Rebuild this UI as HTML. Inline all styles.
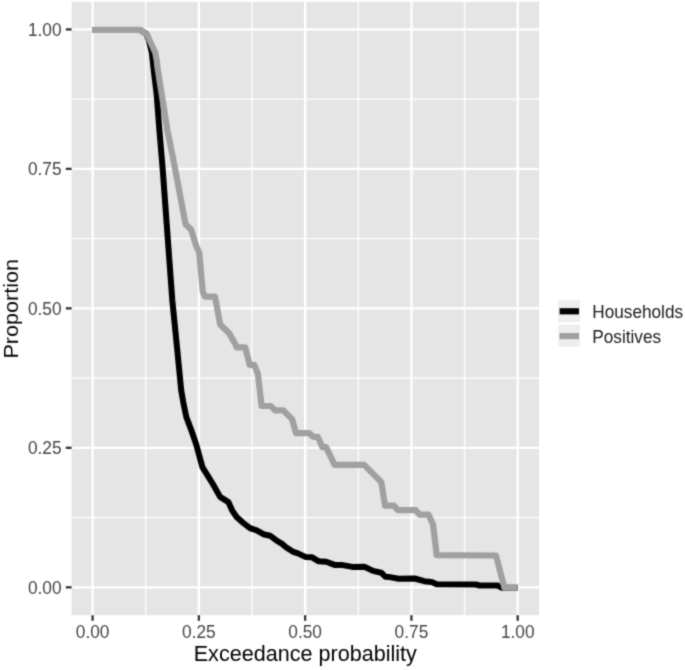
<!DOCTYPE html>
<html><head><meta charset="utf-8"><style>
html,body{margin:0;padding:0;background:#fff;}
svg{display:block;font-family:"Liberation Sans",sans-serif;}
</style></head><body>
<svg width="685" height="670" viewBox="0 0 685 670">
<defs><filter id="bl" filterUnits="userSpaceOnUse" x="-8" y="-8" width="701" height="686" color-interpolation-filters="sRGB"><feColorMatrix type="saturate" values="0"/><feConvolveMatrix order="3" kernelMatrix="0.0289 0.1122 0.0289 0.1122 0.4356 0.1122 0.0289 0.1122 0.0289" divisor="1" preserveAlpha="true" edgeMode="duplicate"/></filter></defs>
<rect width="685" height="670" fill="#fff"/>
<g filter="url(#bl)">
<rect x="-8" y="-8" width="701" height="686" fill="#fff"/>
<rect x="71.6" y="1.85" width="467.5" height="613.4" fill="#E5E5E5"/>
<line x1="145.74" y1="1.85" x2="145.74" y2="615.2" stroke="#FFFFFF" stroke-width="1.2"/>
<line x1="71.6" y1="517.56" x2="539.1" y2="517.56" stroke="#FFFFFF" stroke-width="1.2"/>
<line x1="252.01" y1="1.85" x2="252.01" y2="615.2" stroke="#FFFFFF" stroke-width="1.2"/>
<line x1="71.6" y1="378.09" x2="539.1" y2="378.09" stroke="#FFFFFF" stroke-width="1.2"/>
<line x1="358.29" y1="1.85" x2="358.29" y2="615.2" stroke="#FFFFFF" stroke-width="1.2"/>
<line x1="71.6" y1="238.61" x2="539.1" y2="238.61" stroke="#FFFFFF" stroke-width="1.2"/>
<line x1="464.56" y1="1.85" x2="464.56" y2="615.2" stroke="#FFFFFF" stroke-width="1.2"/>
<line x1="71.6" y1="99.14" x2="539.1" y2="99.14" stroke="#FFFFFF" stroke-width="1.2"/>
<line x1="92.60" y1="1.85" x2="92.60" y2="615.2" stroke="#FFFFFF" stroke-width="2.3"/>
<line x1="71.6" y1="587.30" x2="539.1" y2="587.30" stroke="#FFFFFF" stroke-width="2.3"/>
<line x1="198.88" y1="1.85" x2="198.88" y2="615.2" stroke="#FFFFFF" stroke-width="2.3"/>
<line x1="71.6" y1="447.82" x2="539.1" y2="447.82" stroke="#FFFFFF" stroke-width="2.3"/>
<line x1="305.15" y1="1.85" x2="305.15" y2="615.2" stroke="#FFFFFF" stroke-width="2.3"/>
<line x1="71.6" y1="308.35" x2="539.1" y2="308.35" stroke="#FFFFFF" stroke-width="2.3"/>
<line x1="411.43" y1="1.85" x2="411.43" y2="615.2" stroke="#FFFFFF" stroke-width="2.3"/>
<line x1="71.6" y1="168.88" x2="539.1" y2="168.88" stroke="#FFFFFF" stroke-width="2.3"/>
<line x1="517.70" y1="1.85" x2="517.70" y2="615.2" stroke="#FFFFFF" stroke-width="2.3"/>
<line x1="71.6" y1="29.40" x2="539.1" y2="29.40" stroke="#FFFFFF" stroke-width="2.3"/>
<polyline points="92.6,29.9 140.0,29.9 146.5,34.1 148.8,40.3 151.8,52.3 152.7,60.3 153.5,68.3 156.7,94.7 159.4,130.3 162.7,169.3 166.8,225.3 172.3,300.3 176.8,345.1 181.2,390.3 183.3,402.3 186.4,417.3 190.9,429.1 196.1,444.0 202.4,467.1 207.5,475.3 213.0,484.3 220.1,496.9 228.4,502.1 232.1,510.3 236.6,517.0 243.3,523.0 250.0,528.2 256.7,530.4 263.4,534.2 270.1,535.7 276.1,540.2 282.1,543.9 286.0,547.2 292.7,551.6 297.9,553.4 305.4,556.9 312.1,557.3 318.8,561.3 326.3,561.8 335.2,565.1 342.7,565.1 352.4,566.9 364.3,566.7 373.1,570.9 381.2,572.7 385.5,576.8 389.9,577.1 398.7,578.8 414.7,578.5 424.2,581.2 431.5,581.9 436.6,584.3 475.8,584.5 479.6,585.5 497.5,585.5 502.0,587.8 517.7,587.8" fill="none" stroke="#000" stroke-width="6.0" stroke-linejoin="round" stroke-linecap="butt"/>
<polyline points="92.6,29.9 139.9,29.9 147.0,34.8 155.3,52.8 156.7,60.3 157.6,68.3 161.8,94.7 167.4,130.3 172.5,155.3 175.2,169.3 185.6,224.3 191.2,229.8 196.6,247.2 199.2,252.3 202.8,291.9 205.0,296.7 215.0,296.7 220.2,324.6 229.4,333.5 235.8,345.1 236.5,347.3 245.2,347.3 249.7,364.9 254.2,364.9 257.9,373.9 261.6,406.0 270.6,406.0 275.1,410.4 283.3,410.4 292.2,419.4 296.0,433.1 309.2,433.1 313.2,436.8 317.8,436.8 322.4,447.2 326.1,447.2 334.6,464.8 364.2,464.8 381.3,482.2 385.1,505.7 394.1,505.7 398.0,510.2 415.8,510.2 419.6,514.6 428.5,514.6 433.0,524.3 436.7,555.2 496.0,555.5 504.4,587.6 517.7,587.6" fill="none" stroke="#A0A0A0" stroke-width="6.2" stroke-linejoin="round" stroke-linecap="butt"/>
<line x1="92.60" y1="615.2" x2="92.60" y2="620.80" stroke="#333" stroke-width="2.3"/>
<line x1="65.80" y1="587.30" x2="71.6" y2="587.30" stroke="#333" stroke-width="2.3"/>
<text transform="translate(92.60,638.2) scale(1,1.07)" text-anchor="middle" font-size="17.3" fill="#454545">0.00</text>
<text transform="translate(61.6,593.60) scale(1,1.07)" text-anchor="end" font-size="17.3" fill="#454545">0.00</text>
<line x1="198.88" y1="615.2" x2="198.88" y2="620.80" stroke="#333" stroke-width="2.3"/>
<line x1="65.80" y1="447.82" x2="71.6" y2="447.82" stroke="#333" stroke-width="2.3"/>
<text transform="translate(198.88,638.2) scale(1,1.07)" text-anchor="middle" font-size="17.3" fill="#454545">0.25</text>
<text transform="translate(61.6,454.12) scale(1,1.07)" text-anchor="end" font-size="17.3" fill="#454545">0.25</text>
<line x1="305.15" y1="615.2" x2="305.15" y2="620.80" stroke="#333" stroke-width="2.3"/>
<line x1="65.80" y1="308.35" x2="71.6" y2="308.35" stroke="#333" stroke-width="2.3"/>
<text transform="translate(305.15,638.2) scale(1,1.07)" text-anchor="middle" font-size="17.3" fill="#454545">0.50</text>
<text transform="translate(61.6,314.65) scale(1,1.07)" text-anchor="end" font-size="17.3" fill="#454545">0.50</text>
<line x1="411.43" y1="615.2" x2="411.43" y2="620.80" stroke="#333" stroke-width="2.3"/>
<line x1="65.80" y1="168.88" x2="71.6" y2="168.88" stroke="#333" stroke-width="2.3"/>
<text transform="translate(411.43,638.2) scale(1,1.07)" text-anchor="middle" font-size="17.3" fill="#454545">0.75</text>
<text transform="translate(61.6,175.18) scale(1,1.07)" text-anchor="end" font-size="17.3" fill="#454545">0.75</text>
<line x1="517.70" y1="615.2" x2="517.70" y2="620.80" stroke="#333" stroke-width="2.3"/>
<line x1="65.80" y1="29.40" x2="71.6" y2="29.40" stroke="#333" stroke-width="2.3"/>
<text transform="translate(517.70,638.2) scale(1,1.07)" text-anchor="middle" font-size="17.3" fill="#454545">1.00</text>
<text transform="translate(61.6,35.70) scale(1,1.07)" text-anchor="end" font-size="17.3" fill="#454545">1.00</text>
<text transform="translate(305.3,661.4) scale(1,1.045)" text-anchor="middle" font-size="21.6" fill="#000">Exceedance probability</text>
<text transform="translate(17.6,308.8) rotate(-90) scale(1,0.96)" text-anchor="middle" font-size="21.6" fill="#000">Proportion</text>
<rect x="558.1" y="300.1" width="22" height="22" fill="#EEEEEE"/>
<rect x="558.1" y="324.7" width="22" height="22" fill="#EEEEEE"/>
<line x1="559.6" y1="311.3" x2="579" y2="311.3" stroke="#000" stroke-width="6.2"/>
<line x1="559.6" y1="336.1" x2="579" y2="336.1" stroke="#A0A0A0" stroke-width="6.2"/>
<text transform="translate(592.3,317.9) scale(1,1.07)" font-size="17.2" fill="#1A1A1A">Households</text>
<text transform="translate(592.3,342.8) scale(1,1.07)" font-size="17.2" fill="#1A1A1A">Positives</text>
</g>
</svg>
</body></html>
